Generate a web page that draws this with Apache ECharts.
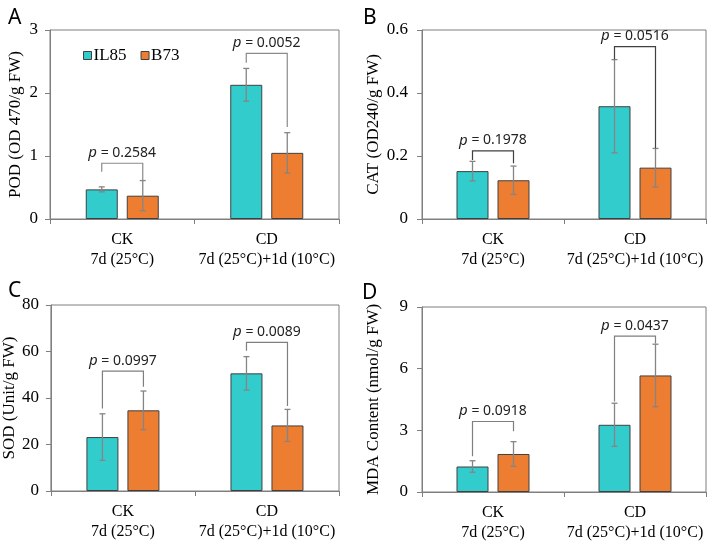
<!DOCTYPE html>
<html><head><meta charset="utf-8">
<script src="https://cdn.jsdelivr.net/npm/echarts@6/dist/echarts.min.js"></script>
<style>html,body{margin:0;padding:0;background:#fff}#c{width:708px;height:543px}</style>
</head><body><div id="c"></div>
<script>
// ---------- data ----------
const categories = ['CK\n7d (25°C)', 'CD\n7d (25°C)+1d (10°C)'];
const seriesNames = ['IL85', 'B73'];
const panelLetters = ['A', 'B', 'C', 'D'];
const yNames = ['POD (OD 470/g FW)', 'CAT (OD240/g FW)', 'SOD (Unit/g FW)', 'MDA Content (nmol/g FW)'];
const yMax = [3, 0.6, 80, 9];
const yInterval = [1, 0.2, 20, 3];

// POD
const podIL85 = [0.47, 2.13], podIL85Err = [0.04, 0.26];
const podB73 = [0.37, 1.05], podB73Err = [0.24, 0.32];
const podP = ['0.2584', '0.0052'];
const podBracket = [0.885, 2.63], podLegL = [0.75, 2.48], podLegR = [0.61, 1.46];
// CAT
const catIL85 = [0.152, 0.358], catIL85Err = [0.031, 0.148];
const catB73 = [0.123, 0.163], catB73Err = [0.045, 0.061];
const catP = ['0.1978', '0.0516'];
const catBracket = [0.216, 0.547], catLegL = [0.187, 0.507], catLegR = [0.177, 0.225];
// SOD
const sodIL85 = [23.2, 50.6], sodIL85Err = [10.0, 7.2];
const sodB73 = [34.7, 28.2], sodB73Err = [8.3, 6.9];
const sodP = ['0.0997', '0.0089'];
const sodBracket = [51.6, 63.9], sodLegL = [35.5, 60.3], sodLegR = [44.8, 36.6];
// MDA
const mdaIL85 = [1.24, 3.27], mdaIL85Err = [0.28, 1.05];
const mdaB73 = [1.85, 5.67], mdaB73Err = [0.6, 1.52];
const mdaP = ['0.0918', '0.0437'];
const mdaBracket = [3.43, 7.58], mdaLegL = [1.74, 4.40], mdaLegR = [2.95, 7.22];

const panels = [
  {il: podIL85, ilE: podIL85Err, b: podB73, bE: podB73Err, p: podP, br: podBracket, lL: podLegL, lR: podLegR},
  {il: catIL85, ilE: catIL85Err, b: catB73, bE: catB73Err, p: catP, br: catBracket, lL: catLegL, lR: catLegR},
  {il: sodIL85, ilE: sodIL85Err, b: sodB73, bE: sodB73Err, p: sodP, br: sodBracket, lL: sodLegL, lR: sodLegR},
  {il: mdaIL85, ilE: mdaIL85Err, b: mdaB73, bE: mdaB73Err, p: mdaP, br: mdaBracket, lL: mdaLegL, lR: mdaLegR}
];

// ---------- layout / style ----------
const grids = [
  {left: 50, top: 30, width: 289, height: 189},
  {left: 422, top: 30, width: 284, height: 189},
  {left: 50, top: 305, width: 289, height: 186},
  {left: 422, top: 307, width: 284, height: 186}
];
const nameGaps = [26, 40, 26, 40];
const letterPos = [[3, 3], [358, 3], [3, 276], [357, 278]];
const bracketColors = ['#8a8a8a', '#404040', '#7f7f7f', '#7f7f7f'];
const COLORS = ['#33CCCC', '#ED7D31'];
const BAR_W = 32, BAR_GAP = 9;
const OFF = (BAR_W + BAR_GAP) / 2;
const SERIF = '"Liberation Serif","Times New Roman",serif';
const SANS = '"Noto Sans","DejaVu Sans",sans-serif';
const AXIS_COLOR = '#7f7f7f';

const chart = echarts.init(document.getElementById('c'), null, {renderer: 'canvas'});

const option = {
  animation: false,
  backgroundColor: '#fff',
  grid: grids.map(g => Object.assign({show: true, borderColor: AXIS_COLOR, borderWidth: 1, backgroundColor: 'transparent'}, g)),
  title: panelLetters.map((t, i) => ({
    text: t, left: letterPos[i][0], top: letterPos[i][1],
    textStyle: {fontFamily: SANS, fontSize: 21, fontWeight: 'normal', color: '#000'}
  })),
  legend: {
    data: seriesNames, left: 78, top: 42, itemWidth: 8, itemHeight: 8, itemGap: 14,
    icon: 'rect',
    textStyle: {fontFamily: SERIF, fontSize: 17, color: '#000', padding: [0, 0, 0, -3]},
    itemStyle: {borderColor: '#404040', borderWidth: 1}
  },
  xAxis: grids.map((g, i) => ({
    type: 'category', gridIndex: i, data: categories,
    axisLine: {lineStyle: {color: AXIS_COLOR, width: 1}},
    axisTick: {show: true, length: 5, lineStyle: {color: AXIS_COLOR}},
    axisLabel: {fontFamily: SERIF, fontSize: 16, color: '#000', lineHeight: 20, margin: 11, interval: 0}
  })),
  yAxis: grids.map((g, i) => ({
    type: 'value', gridIndex: i, min: 0, max: yMax[i], interval: yInterval[i],
    name: yNames[i], nameLocation: 'middle', nameRotate: 90, nameGap: nameGaps[i],
    nameTextStyle: {fontFamily: SERIF, fontSize: 17, color: '#000'},
    axisLine: {show: true, lineStyle: {color: AXIS_COLOR, width: 1}},
    axisTick: {show: true, length: 5, lineStyle: {color: AXIS_COLOR}},
    splitLine: {show: false},
    axisLabel: {fontFamily: SERIF, fontSize: 17, color: '#000', margin: i % 2 ? 14 : 12}
  })),
  series: []
};

panels.forEach((pn, i) => {
  [[pn.il, pn.ilE], [pn.b, pn.bE]].forEach((pair, s) => {
    option.series.push({
      type: 'bar', name: seriesNames[s], xAxisIndex: i, yAxisIndex: i,
      data: pair[0], barWidth: BAR_W, barGap: (BAR_GAP / BAR_W * 100) + '%',
      itemStyle: {color: COLORS[s], borderColor: '#404040', borderWidth: 1},
      z: 2
    });
    // error bars
    option.series.push({
      type: 'custom', xAxisIndex: i, yAxisIndex: i, z: 5,
      data: pair[0].map((v, k) => [k, v, pair[1][k]]),
      renderItem: function (params, api) {
        const k = api.value(0), v = api.value(1), e = api.value(2);
        const dx = s === 0 ? -OFF : OFF;
        const hi = api.coord([k, v + e]), lo = api.coord([k, v - e]);
        const x = hi[0] + dx;
        const st = {stroke: '#858585', lineWidth: 1.3};
        return {type: 'group', children: [
          {type: 'line', shape: {x1: x, y1: hi[1], x2: x, y2: lo[1]}, style: st},
          {type: 'line', shape: {x1: x - 3, y1: hi[1], x2: x + 3, y2: hi[1]}, style: st},
          {type: 'line', shape: {x1: x - 3, y1: lo[1], x2: x + 3, y2: lo[1]}, style: st}
        ]};
      }
    });
  });
  // significance brackets
  option.series.push({
    type: 'custom', xAxisIndex: i, yAxisIndex: i, z: 6,
    data: pn.br.map((b, k) => [k, b, pn.lL[k], pn.lR[k], pn.p[k]]),
    renderItem: function (params, api) {
      const k = api.value(0);
      const top = api.coord([k, api.value(1)]);
      const yl = api.coord([k, api.value(2)])[1];
      const yr = api.coord([k, api.value(3)])[1];
      const xl = top[0] - OFF, xr = top[0] + OFF;
      const st = {stroke: bracketColors[i], lineWidth: 1.2, fill: null};
      return {type: 'group', children: [
        {type: 'polyline', shape: {points: [[xl, yl], [xl, top[1]], [xr, top[1]], [xr, yr]]}, style: st},
        {type: 'text', style: {
          x: top[0], y: top[1] - 3, align: 'center', verticalAlign: 'bottom',
          text: '{i|p} = ' + pn.p[k],
          font: '14px ' + SANS, fill: '#222',
          rich: {i: {fontStyle: 'italic', fontFamily: SANS, fontSize: 15, fill: '#222'}}
        }}
      ]};
    }
  });
});

chart.setOption(option);
</script>
</body></html>
